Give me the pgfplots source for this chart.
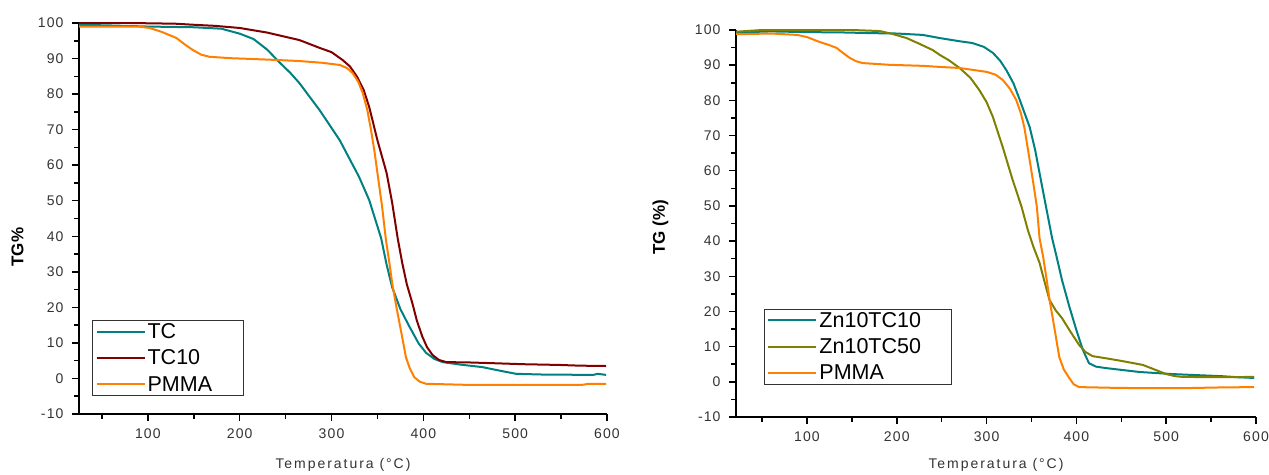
\documentclass[border=0pt]{standalone}
\usepackage{fontspec}
\setmainfont{Liberation Sans}
\newfontfamily\tickfont[LetterSpace=8]{Liberation Sans}
\newfontfamily\labfont[LetterSpace=14]{Liberation Sans}
\usepackage{pgfplots}
\pgfplotsset{compat=1.18}
\definecolor{cTC}{RGB}{0,128,128}
\definecolor{cTCten}{RGB}{128,0,0}
\definecolor{cPMMA}{RGB}{255,128,0}
\definecolor{cOlive}{RGB}{128,128,0}
\pgfplotsset{
  tga/.style={
    scale only axis,
    axis x line=bottom, axis y line=left,
    axis line style={-, line width=2pt},
    ymin=-10, ymax=100,
    xmax=600,
    ytick={-10,0,...,100},
    minor ytick={-5,5,...,95},
    xtick={100,200,...,600},
    minor xtick={50,150,...,550},
    tick align=outside,
    major tick length=7pt, minor tick length=5pt,
    every tick/.style={black, line width=1.5pt},
    /pgf/number format/assume math mode=true,
    ticklabel style={font=\tickfont\fontsize{14}{16}\selectfont, text=black!80},
    yticklabel style={xshift=-5pt},
    xticklabel style={yshift=-4pt},
    x label style={font=\labfont\fontsize{14}{16}\selectfont, text=black!80, anchor=center},
    y label style={font=\bfseries\fontsize{17}{19}\selectfont, anchor=south},
    legend cell align=left,
    legend style={draw=black!80, line width=0.8pt, font=\fontsize{21.5}{23}\selectfont,
      inner xsep=3pt, inner ysep=1pt, row sep=6pt},
    legend image code/.code={\draw[#1, line width=2pt] (0pt,0pt) -- (48pt,0pt);},
    every axis plot/.append style={line width=2pt, mark=none},
  }
}
\begin{document}
\begin{tikzpicture}
\path[use as bounding box] (0,0) rectangle (1269pt,474pt);
\begin{axis}[tga, at={(79pt,60pt)}, width=528pt, height=391pt, xmin=25,
  xlabel={Temperatura (°C)}, ylabel={TG\%},
  x label style={at={(axis description cs:0.5,-0.13)}},
  y label style={at={(axis description cs:-0.0985,0.427)}},
  legend style={at={(0.025,0.046)}, anchor=south west}]
\addplot[cTC] coordinates {
 (25,99.5) (60,99.3) (100,99) (150,98.8) (180,98.4) (200,97) (215,95.5) (230,92.5)
 (243,89) (255,86) (265,83.1) (287,75.5) (309,67) (330,56.7) (341,50.2) (354,39.5)
 (360,32) (366,25.7) (375,19.5) (385,14.5) (395,9.8) (403,7.2) (412,5.5) (421,4.6)
 (440,3.9) (464,3.2) (485,2.1) (501,1.3) (530,1.1) (585,1.0) (590,1.3) (599,1.0)};
\addplot[cTCten] coordinates {
 (25,100) (80,100) (130,99.8) (150,99.5) (173,99.2) (200,98.6) (230,97.3) (265,95.2)
 (287,93) (300,91.8) (312,89.6) (320,87.8) (328,84.8) (335,81.2) (341,76.4) (350,67)
 (360,57.8) (366,49.5) (372,39.5) (377,32.5) (382,26.5) (388,21.2) (393,16.2)
 (399,11.7) (404,8.8) (410,6.6) (417,5.2) (425,4.6) (450,4.5) (475,4.3) (510,4.0)
 (548,3.8) (570,3.6) (599,3.5)};
\addplot[cPMMA] coordinates {
 (25,99) (60,99) (90,99) (102,98.6) (115,97.5) (131,95.8) (140,94) (149,92.4)
 (158,91.1) (167,90.5) (190,90.1) (211,89.9) (240,89.6) (265,89.3) (290,88.8)
 (309,88.2) (317,87.3) (323,85.9) (329,83.5) (334,80.3) (339,75.5) (343,69.9)
 (347,63.5) (350,57.8) (355,48.5) (359,39.5) (363,32.5) (366,26.9) (370,21.0)
 (374,15.6) (378,10.2) (381,6.0) (385,3.0) (390,0.4) (396,-0.9) (403,-1.5)
 (447,-1.8) (573,-1.8) (580,-1.5) (599,-1.5)};
\legend{TC,TC10,PMMA\rule{26pt}{0pt}}
\end{axis}
\begin{axis}[tga, at={(736pt,57pt)}, width=520pt, height=387pt, xmin=21,
  xlabel={Temperatura (°C)}, ylabel={TG (\%)},
  x label style={at={(axis description cs:0.5,-0.124)}},
  y label style={at={(axis description cs:-0.123,0.49)}},
  legend style={at={(0.054,0.083)}, anchor=south west}]
\addplot[cTC] coordinates {
 (21,99.3) (60,99.6) (100,99.4) (140,99.3) (173,99.1) (200,99) (229,98.6) (248,97.7)
 (270,96.8) (284,96.3) (297,95.2) (307,93.5) (315,91.3) (322,88.6) (330,84.8)
 (337,80.1) (348,72.4) (354,66) (359,59.3) (366,50) (373,40.8) (378,35.5)
 (384,28.9) (392,21.5) (400,14.7) (407,9.2) (414,5.3) (422,4.3) (433,3.9)
 (470,2.8) (507,2.2) (562,1.6) (580,1.3) (598,1.1)};
\addplot[cOlive] coordinates {
 (21,99.5) (50,100) (100,100) (150,100) (181,99.7) (195,98.9) (211,97.7) (225,96.1)
 (240,94.3) (248,92.9) (258,91.4) (270,89.2) (282,86.4) (292,82.9) (300,79.5)
 (307,75.3) (318,66.7) (329,57.4) (339,49.7) (346,43.1) (352,38.5) (359,33.8)
 (365,28) (370,23.3) (377,20.3) (384,18.1) (393,14.4) (403,10.5) (410,8.5)
 (418,7.3) (435,6.6) (451,5.9) (474,4.8) (488,3.4) (500,2.2) (510,1.6) (518,1.4)
 (560,1.3) (598,1.4)};
\addplot[cPMMA] coordinates {
 (21,98.8) (60,99) (89,98.6) (100,98) (114,96.6) (125,95.7) (133,94.9) (140,93.5)
 (148,92) (155,91.1) (162,90.6) (192,90.1) (230,89.8) (248,89.5) (270,89.2)
 (300,88.1) (310,87.3) (318,85.8) (326,83.3) (333,80.1) (338,76.5) (342,72.4)
 (348,63) (352,56.5) (356,49.7) (359,40.8) (363,35.5) (367,28.9) (370,23.5)
 (374,17.6) (378,11.5) (381,7.0) (386,3.5) (392,1.1) (397,-0.7) (403,-1.5)
 (440,-1.7) (470,-1.8) (520,-1.8) (560,-1.6) (598,-1.5)};
\legend{Zn10TC10\rule{25pt}{0pt},Zn10TC50,PMMA}
\end{axis}
\end{tikzpicture}
\end{document}
